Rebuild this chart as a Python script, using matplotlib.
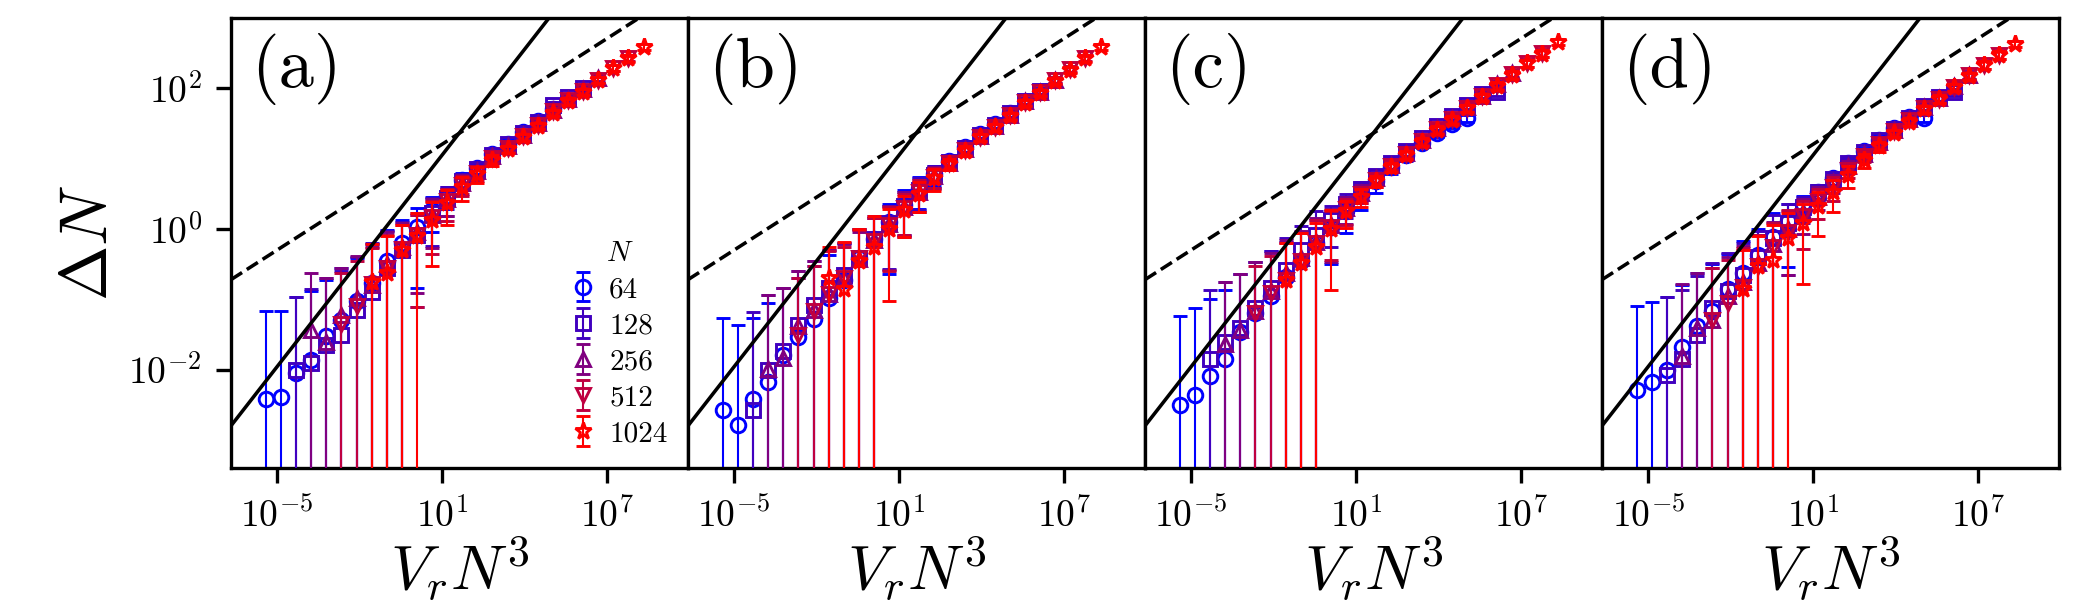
import numpy as np
import matplotlib
matplotlib.use("Agg")
import matplotlib.pyplot as plt
from matplotlib.ticker import FixedLocator, NullLocator, LogFormatterSciNotation

plt.rcParams['font.family'] = 'serif'
plt.rcParams['font.serif'] = ['cmr10']
plt.rcParams['mathtext.fontset'] = 'cm'
plt.rcParams['axes.formatter.use_mathtext'] = True
plt.rcParams['axes.unicode_minus'] = False

# ---------------- data (log10 values) ----------------
sizes = [64, 128, 256, 512, 1024]
start_index = [0, 2, 3, 5, 7]          # first grid point of each N
markers = ['o', 's', '^', 'v', '*']
colors = ['#0000ff', '#4000bf', '#800080', '#bf0040', '#ff0000']
panel_labels = ['(a)', '(b)', '(c)', '(d)']

# common grid of log10(V_r N^3)
logx = [-5.41, -4.86, -4.31, -3.76, -3.21, -2.66, -2.11, -1.56, -1.01, -0.46,
        0.09, 0.64, 1.19, 1.74, 2.29, 2.84, 3.39, 3.94, 4.49, 5.04,
        5.59, 6.14, 6.69, 7.24, 7.79, 8.34]

# panel (a): log10(Delta N) and log10(upper end of error bar)
a64_y = [-2.41, -2.38, -2.05, -1.86, -1.52, -1.30, -1.03, -0.77, -0.46, -0.20, 0.02, 0.27, 0.47, 0.70, 0.87, 1.06, 1.21, 1.37, 1.53, 1.70]
a64_hi = [-1.17, -1.16, -0.97, -0.88, -0.72, -0.55, -0.42, -0.22, -0.02, 0.12, 0.29, 0.45, 0.60, 0.79, 0.94, 1.11, 1.26, 1.41, 1.57, 1.74]
a128_y = [-2.01, -1.90, -1.65, -1.50, -1.15, -0.90, -0.55, -0.30, -0.08, 0.22, 0.44, 0.68, 0.85, 1.05, 1.20, 1.36, 1.52, 1.76, 1.87, 2.00]
a128_hi = [-0.97, -0.85, -0.70, -0.60, -0.40, -0.20, -0.03, 0.10, 0.20, 0.44, 0.60, 0.78, 0.93, 1.11, 1.25, 1.41, 1.57, 1.80, 1.91, 2.04]
a256_y = [-1.43, -1.60, -1.22, -0.98, -0.80, -0.50, -0.25, -0.05, 0.20, 0.42, 0.65, 0.82, 1.03, 1.17, 1.34, 1.50, 1.69, 1.85, 1.98, 2.14]
a256_hi = [-0.63, -0.70, -0.55, -0.38, -0.25, -0.05, 0.08, 0.22, 0.42, 0.57, 0.76, 0.90, 1.09, 1.22, 1.39, 1.54, 1.73, 1.89, 2.02, 2.18]
a512_y = [-1.35, -1.10, -0.78, -0.55, -0.28, -0.08, 0.17, 0.40, 0.63, 0.80, 1.01, 1.15, 1.32, 1.48, 1.67, 1.83, 1.96, 2.12, 2.29, 2.43]
a512_hi = [-0.62, -0.45, -0.27, -0.08, 0.06, 0.20, 0.40, 0.57, 0.75, 0.89, 1.07, 1.20, 1.37, 1.52, 1.71, 1.87, 2.00, 2.16, 2.33, 2.47]
a1024_y = [-0.75, -0.62, -0.30, -0.10, 0.13, 0.37, 0.60, 0.78, 0.98, 1.13, 1.30, 1.46, 1.65, 1.81, 1.95, 2.11, 2.28, 2.42, 2.58]
a1024_hi = [-0.22, -0.10, 0.05, 0.22, 0.38, 0.55, 0.74, 0.88, 1.05, 1.18, 1.35, 1.50, 1.69, 1.85, 1.99, 2.15, 2.32, 2.46, 2.62]

# panel (b)
b64_y = [-2.57, -2.78, -2.42, -2.18, -1.79, -1.53, -1.28, -0.98, -0.72, -0.41, -0.15, 0.10, 0.34, 0.56, 0.78, 0.97, 1.16, 1.35, 1.49, 1.65]
b64_hi = [-1.27, -1.37, -1.27, -1.05, -0.84, -0.70, -0.53, -0.37, -0.20, 0.00, 0.18, 0.36, 0.55, 0.73, 0.90, 1.04, 1.22, 1.40, 1.54, 1.70]
b128_y = [-2.57, -2.01, -1.73, -1.36, -1.08, -0.84, -0.65, -0.41, -0.15, 0.08, 0.32, 0.55, 0.76, 0.95, 1.15, 1.34, 1.48, 1.64, 1.82, 1.96]
b128_hi = [-1.18, -0.94, -0.84, -0.60, -0.46, -0.30, -0.20, 0.00, 0.16, 0.33, 0.53, 0.72, 0.89, 1.02, 1.21, 1.39, 1.53, 1.69, 1.86, 2.00]
b256_y = [-1.99, -1.83, -1.38, -1.15, -0.92, -0.70, -0.43, -0.16, 0.07, 0.31, 0.53, 0.75, 0.94, 1.13, 1.32, 1.46, 1.62, 1.81, 1.95, 2.12]
b256_hi = [-0.94, -0.84, -0.60, -0.46, -0.30, -0.22, -0.05, 0.15, 0.32, 0.52, 0.70, 0.88, 1.01, 1.19, 1.37, 1.51, 1.67, 1.85, 1.99, 2.16]
b512_y = [-1.50, -1.17, -0.93, -0.70, -0.42, -0.17, 0.06, 0.30, 0.52, 0.74, 0.93, 1.12, 1.31, 1.45, 1.61, 1.80, 1.94, 2.11, 2.27, 2.43]
b512_hi = [-0.70, -0.53, -0.32, -0.25, -0.01, 0.15, 0.31, 0.50, 0.69, 0.86, 1.00, 1.18, 1.36, 1.50, 1.66, 1.84, 1.98, 2.15, 2.31, 2.47]
b1024_y = [-0.70, -0.85, -0.46, -0.25, 0.00, 0.27, 0.50, 0.72, 0.92, 1.11, 1.30, 1.44, 1.60, 1.79, 1.93, 2.10, 2.26, 2.42, 2.58]
b1024_hi = [-0.25, -0.18, 0.00, 0.18, 0.28, 0.47, 0.66, 0.85, 0.99, 1.17, 1.35, 1.49, 1.65, 1.83, 1.97, 2.14, 2.30, 2.46, 2.62]

# panel (c)
c64_y = [-2.50, -2.36, -2.09, -1.85, -1.46, -1.20, -0.95, -0.68, -0.45, -0.20, 0.02, 0.25, 0.48, 0.68, 0.88, 1.05, 1.22, 1.36, 1.49, 1.57]
c64_hi = [-1.23, -1.12, -1.00, -0.87, -0.64, -0.47, -0.32, -0.18, -0.05, 0.12, 0.25, 0.43, 0.62, 0.80, 0.96, 1.12, 1.27, 1.41, 1.54, 1.62]
c128_y = [-1.85, -1.61, -1.41, -1.12, -0.84, -0.58, -0.30, -0.08, 0.13, 0.36, 0.56, 0.75, 0.94, 1.11, 1.29, 1.46, 1.60, 1.76, 1.92, 1.94]
c128_hi = [-0.87, -0.75, -0.64, -0.47, -0.32, -0.13, 0.04, 0.26, 0.33, 0.50, 0.67, 0.84, 1.01, 1.17, 1.34, 1.51, 1.65, 1.81, 1.97, 1.99]
c256_y = [-1.63, -1.44, -1.17, -0.88, -0.62, -0.42, -0.18, 0.05, 0.30, 0.51, 0.72, 0.91, 1.08, 1.26, 1.43, 1.57, 1.73, 1.89, 2.05, 2.21]
c256_hi = [-0.75, -0.64, -0.47, -0.34, -0.16, -0.03, 0.15, 0.28, 0.45, 0.62, 0.80, 0.97, 1.13, 1.31, 1.48, 1.62, 1.78, 1.94, 2.10, 2.26]
c512_y = [-1.20, -0.91, -0.72, -0.45, -0.20, 0.03, 0.28, 0.50, 0.70, 0.90, 1.07, 1.25, 1.42, 1.56, 1.72, 1.88, 2.04, 2.20, 2.36, 2.50]
c512_hi = [-0.52, -0.38, -0.20, -0.06, 0.12, 0.25, 0.43, 0.60, 0.78, 0.96, 1.12, 1.30, 1.47, 1.61, 1.77, 1.93, 2.09, 2.25, 2.41, 2.55]
c1024_y = [-0.72, -0.48, -0.25, 0.00, 0.25, 0.46, 0.68, 0.88, 1.05, 1.24, 1.41, 1.55, 1.71, 1.87, 2.03, 2.19, 2.35, 2.49, 2.66]
c1024_hi = [-0.20, -0.06, 0.08, 0.27, 0.40, 0.57, 0.75, 0.94, 1.10, 1.29, 1.46, 1.60, 1.76, 1.92, 2.08, 2.24, 2.40, 2.54, 2.70]

# panel (d)
d64_y = [-2.28, -2.17, -2.01, -1.67, -1.38, -1.17, -0.86, -0.63, -0.37, -0.11, 0.11, 0.35, 0.53, 0.72, 0.94, 1.10, 1.26, 1.43, 1.59, 1.57]
d64_hi = [-1.10, -1.04, -0.97, -0.80, -0.63, -0.50, -0.35, -0.17, 0.00, 0.22, 0.36, 0.47, 0.62, 0.80, 1.00, 1.15, 1.32, 1.48, 1.63, 1.62]
d128_y = [-2.07, -1.85, -1.50, -1.12, -0.88, -0.66, -0.40, -0.13, 0.09, 0.31, 0.52, 0.71, 0.93, 1.09, 1.26, 1.42, 1.58, 1.74, 1.87, 1.94]
d128_hi = [-0.97, -0.87, -0.67, -0.49, -0.34, -0.20, -0.03, 0.20, 0.35, 0.46, 0.63, 0.80, 0.99, 1.14, 1.31, 1.47, 1.63, 1.79, 1.92, 1.99]
d256_y = [-1.80, -1.41, -1.29, -0.95, -0.75, -0.48, -0.22, 0.00, 0.24, 0.46, 0.66, 0.89, 1.06, 1.24, 1.41, 1.56, 1.73, 1.86, 2.03, 2.19]
d256_hi = [-0.78, -0.63, -0.56, -0.40, -0.24, -0.08, 0.10, 0.25, 0.42, 0.59, 0.77, 0.96, 1.12, 1.29, 1.46, 1.61, 1.78, 1.91, 2.08, 2.24]
d512_y = [-1.30, -1.05, -0.82, -0.53, -0.25, -0.05, 0.18, 0.40, 0.60, 0.84, 1.03, 1.21, 1.39, 1.54, 1.71, 1.85, 2.02, 2.18, 2.33, 2.47]
d512_hi = [-0.56, -0.44, -0.27, -0.08, 0.08, 0.27, 0.40, 0.56, 0.74, 0.93, 1.10, 1.27, 1.44, 1.59, 1.76, 1.90, 2.07, 2.23, 2.38, 2.52]
d1024_y = [-0.85, -0.53, -0.44, -0.13, 0.08, 0.32, 0.53, 0.77, 0.98, 1.17, 1.36, 1.52, 1.70, 1.85, 2.01, 2.17, 2.33, 2.47, 2.63]
d1024_hi = [-0.30, -0.10, 0.05, 0.22, 0.35, 0.53, 0.70, 0.90, 1.07, 1.24, 1.41, 1.57, 1.75, 1.90, 2.06, 2.22, 2.38, 2.52, 2.67]

panels_y = [[a64_y, a128_y, a256_y, a512_y, a1024_y],
            [b64_y, b128_y, b256_y, b512_y, b1024_y],
            [c64_y, c128_y, c256_y, c512_y, c1024_y],
            [d64_y, d128_y, d256_y, d512_y, d1024_y]]
panels_hi = [[a64_hi, a128_hi, a256_hi, a512_hi, a1024_hi],
             [b64_hi, b128_hi, b256_hi, b512_hi, b1024_hi],
             [c64_hi, c128_hi, c256_hi, c512_hi, c1024_hi],
             [d64_hi, d128_hi, d256_hi, d512_hi, d1024_hi]]

# reference power laws: log10(y) = intercept + slope*log10(x)
solid_intercept, solid_slope = 0.545, 0.5
dashed_intercept, dashed_slope = 0.95, 0.25

xlim = (10 ** -6.68, 10 ** 9.96)
ylim = (10 ** -3.39, 10 ** 3.0)

# ---------------- figure ----------------
fig, axes = plt.subplots(1, 4, figsize=(7, 2), dpi=300, sharey=True)
fig.subplots_adjust(left=0.110, right=0.9805, bottom=0.2205, top=0.9707, wspace=0)

xgrid = np.array(logx)
for p, ax in enumerate(axes):
    ax.set_xscale('log')
    ax.set_yscale('log')
    handles = []
    for i, n in enumerate(sizes):
        ly = np.array(panels_y[p][i])
        lh = np.array(panels_hi[p][i])
        lx = xgrid[start_index[i]:start_index[i] + len(ly)]
        y = 10 ** ly
        err = 10 ** lh - y
        h = ax.errorbar(10 ** lx, y, yerr=err, fmt=markers[i], color=colors[i],
                        mfc='none', ms=3.5 if markers[i] != '*' else 4.2, mew=0.7,
                        elinewidth=0.5, capsize=1.6, capthick=0.7,
                        label=str(n), zorder=2 + i)
        handles.append(h)
    xl = np.array(xlim)
    ax.plot(xl, 10 ** solid_intercept * xl ** solid_slope, color='black', lw=0.85, zorder=10)
    ax.plot(xl, 10 ** dashed_intercept * xl ** dashed_slope, color='black', lw=0.85,
            ls='--', zorder=10)
    ax.set_xlim(*xlim)
    ax.set_ylim(*ylim)
    ax.xaxis.set_major_locator(FixedLocator([1e-5, 1e1, 1e7]))
    ax.xaxis.set_minor_locator(NullLocator())
    ax.yaxis.set_major_locator(FixedLocator([1e-2, 1e0, 1e2]))
    ax.yaxis.set_minor_locator(NullLocator())
    ax.xaxis.set_major_formatter(LogFormatterSciNotation())
    ax.yaxis.set_major_formatter(LogFormatterSciNotation())
    ax.tick_params(axis='both', which='major', labelsize=9, length=3.5, width=0.8, pad=3.5)
    if p > 0:
        ax.tick_params(axis='y', left=False, labelleft=False)
    ax.set_xlabel(r'$V_rN^3$', fontsize=15, labelpad=0)
    ax.text(0.045, 0.965, panel_labels[p], transform=ax.transAxes, fontsize=17,
            ha='left', va='top')
    if p == 0:
        ax.set_ylabel(r'$\Delta N$', fontsize=16, labelpad=2)
        ax.legend(handles=handles, title=r'$N$', loc='lower right', frameon=False,
                  fontsize=7, title_fontsize=7, handlelength=0.8,
                  handletextpad=0.5, labelspacing=0.33, borderaxespad=0.3)

fig.savefig('out.png', dpi=300)
